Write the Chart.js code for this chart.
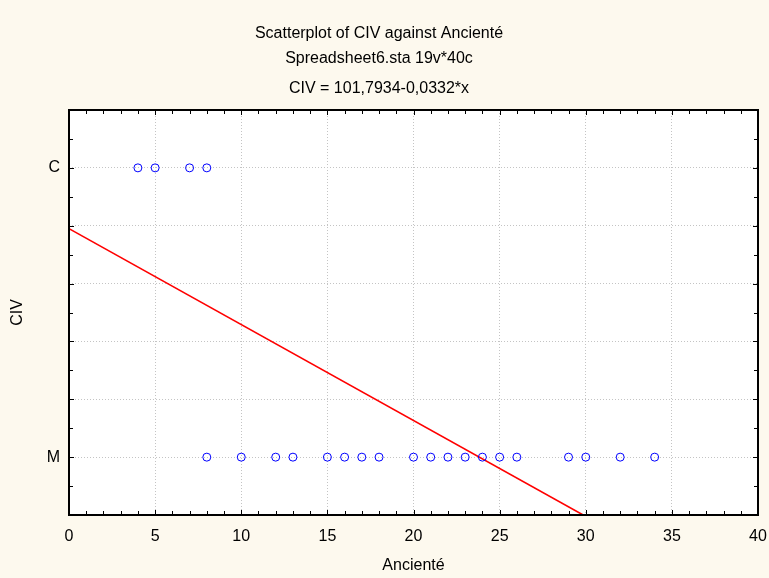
<!DOCTYPE html>
<html>
<head>
<meta charset="utf-8">
<script src="https://cdn.jsdelivr.net/npm/chart.js"></script>
<style>
  html, body { margin: 0; padding: 0; background: #fdf9ee; overflow: hidden; }
  #wrap { width: 769px; height: 578px; }
</style>
</head>
<body>
<div id="wrap"><canvas id="civChart"></canvas></div>
<script>
// data
const groupC = [4, 5, 7, 8];           // Ancienté for CIV = C
const groupM = [8, 10, 12, 13, 15, 16, 17, 18, 20, 21, 22, 23, 24, 25, 26, 29, 30, 32, 34];
const yCodes = { M: 1, C: 6 };         // where each CIV level sits on the y scale
const fitX = [0, 29.85];               // fitted line ends
const fitY = [4.95, 0];
const xTicks = [0, 5, 10, 15, 20, 25, 30, 35, 40];

const titleLines = ['Scatterplot of CIV against Ancienté', 'Spreadsheet6.sta 19v*40c'];
const subTitle = 'CIV = 101,7934-0,0332*x';

document.addEventListener('DOMContentLoaded', () => {
  const FONT = 'Arial, "Liberation Sans", sans-serif';

  // white plot area + black frame with inward ticks, like the Statistica look
  const framePlugin = {
    id: 'frame',
    beforeDraw(chart) {
      const a = chart.chartArea, c = chart.ctx;
      c.save();
      c.fillStyle = '#ffffff';
      c.fillRect(a.left, a.top, a.right - a.left, a.bottom - a.top);
      c.restore();
    },
    afterDraw(chart) {
      const a = chart.chartArea, c = chart.ctx;
      const xs = chart.scales.x, ys = chart.scales.y;
      c.save();
      c.strokeStyle = '#000';
      c.lineWidth = 1;
      c.beginPath();
      for (let v = xs.min; v <= xs.max; v += 1) {
        const px = Math.round(xs.getPixelForValue(v)) + 0.5;
        const len = v % 5 === 0 ? 5 : 4;
        c.moveTo(px, a.bottom); c.lineTo(px, a.bottom - len);
        c.moveTo(px, a.top); c.lineTo(px, a.top + len);
      }
      for (let v = ys.min; v <= ys.max; v += 0.5) {
        const py = Math.round(ys.getPixelForValue(v)) + 0.5;
        const len = v % 1 === 0 ? 5 : 4;
        c.moveTo(a.left, py); c.lineTo(a.left + len, py);
        c.moveTo(a.right, py); c.lineTo(a.right - len, py);
      }
      c.stroke();
      c.lineWidth = 2;
      c.strokeRect(a.left, a.top, a.right - a.left, a.bottom - a.top);
      c.restore();
    }
  };

  const pointStyle = {
    type: 'scatter',
    showLine: false,
    pointRadius: 4,
    pointHoverRadius: 4,
    pointBorderWidth: 1,
    pointBackgroundColor: 'rgba(0,0,0,0)',
    pointBorderColor: '#0000ff'
  };

  new Chart(document.getElementById('civChart'), {
    type: 'scatter',
    data: {
      datasets: [
        {
          label: 'fit',
          type: 'line',
          data: fitX.map((x, i) => ({ x, y: fitY[i] })),
          borderColor: '#ff0000',
          borderWidth: 1.6,
          pointRadius: 0,
          fill: false,
          order: 2
        },
        { ...pointStyle, label: 'C', data: groupC.map(x => ({ x, y: yCodes.C })), order: 1 },
        { ...pointStyle, label: 'M', data: groupM.map(x => ({ x, y: yCodes.M })), order: 1 }
      ]
    },
    options: {
      responsive: true,
      maintainAspectRatio: false,
      animation: false,
      layout: { padding: { left: 0, right: 11, top: 0, bottom: 0 } },
      plugins: {
        legend: { display: false },
        tooltip: { enabled: false },
        title: {
          display: true,
          text: titleLines,
          color: '#000',
          font: { family: FONT, size: 16, weight: 'normal', lineHeight: '25px' },
          padding: { top: 21, bottom: 0 }
        },
        subtitle: {
          display: true,
          text: subTitle,
          color: '#000',
          font: { family: FONT, size: 16, weight: 'normal', lineHeight: '24px' },
          padding: { top: 6, bottom: 9 }
        }
      },
      scales: {
        x: {
          type: 'linear',
          min: 0,
          max: 40,
          afterFit: s => { s.height = 63; s.paddingLeft = 0; s.paddingRight = 0; },
          afterBuildTicks: s => { s.ticks = xTicks.map(value => ({ value })); },
          ticks: { color: '#000', font: { family: FONT, size: 16 }, padding: 12, maxRotation: 0 },
          grid: { color: '#c4c4c4', drawTicks: false, lineWidth: 1 },
          border: { display: false, dash: [1, 2] },
          title: {
            display: true,
            text: 'Ancienté',
            color: '#000',
            font: { family: FONT, size: 16 },
            padding: { top: 0, bottom: 3 }
          }
        },
        y: {
          type: 'linear',
          min: 0,
          max: 7,
          afterFit: s => { s.width = 69; s.paddingTop = 0; s.paddingBottom = 0; },
          ticks: {
            stepSize: 1,
            color: '#000',
            font: { family: FONT, size: 16 },
            padding: 9,
            callback: v => Object.keys(yCodes).find(k => yCodes[k] === v) || ''
          },
          grid: { color: '#c4c4c4', drawTicks: false, lineWidth: 1 },
          border: { display: false, dash: [1, 2] },
          title: {
            display: true,
            text: 'CIV',
            color: '#000',
            font: { family: FONT, size: 16 },
            padding: { top: 8, bottom: 0 }
          }
        }
      }
    },
    plugins: [framePlugin]
  });
});
</script>
</body>
</html>
